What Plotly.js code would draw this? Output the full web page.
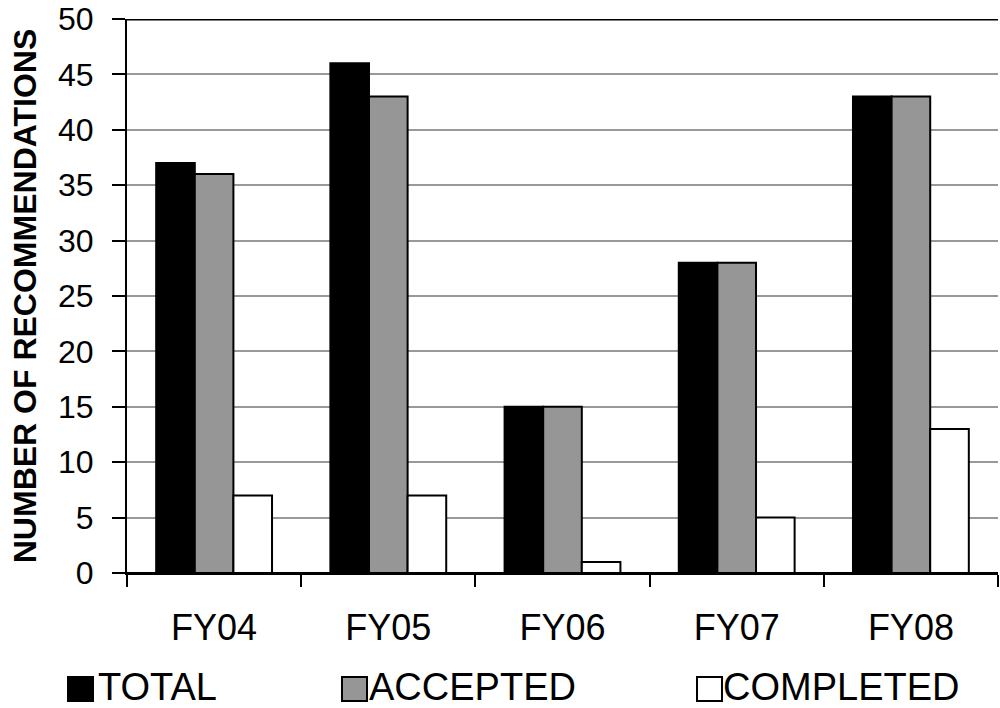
<!DOCTYPE html>
<html>
<head>
<meta charset="utf-8">
<script src="https://cdn.plot.ly/plotly-3.0.1.min.js"></script>
<style>
  html, body { margin: 0; padding: 0; background: #fff; }
  #chart { width: 1000px; height: 708px; }
</style>
</head>
<body>
<div id="chart"></div>
<script>
// Fiscal years on the category axis
const years = ["FY04", "FY05", "FY06", "FY07", "FY08"];

// Recommendation counts per fiscal year
const totalRecs     = [37, 46, 15, 28, 43];
const acceptedRecs  = [36, 43, 15, 28, 43];
const completedRecs = [7, 7, 1, 5, 13];

const seriesNames  = ["TOTAL", "ACCEPTED", "COMPLETED"];
const seriesColors = ["#000000", "#969696", "#ffffff"];
const seriesValues = [totalRecs, acceptedRecs, completedRecs];

const yTicks = [0, 5, 10, 15, 20, 25, 30, 35, 40, 45, 50];

const FONT = "'Liberation Sans', Arial, sans-serif";

const traces = seriesValues.map((vals, i) => ({
  type: "bar",
  name: seriesNames[i],
  x: years,
  y: vals,
  marker: { color: seriesColors[i], line: { color: "#000", width: 2 } },
  showlegend: false,
  hoverinfo: "x+y+name"
}));

// Legend row below the axis: a framed swatch followed by the series name
const plotL = 127, plotW = 871, plotB = 573, plotH = 554;
const swatchX = [68, 342, 697];
const labelX  = [96, 367, 721];
const shapes = [
  // heavy rule along the top of the value range
  { type: "line", xref: "paper", yref: "y", x0: 0, x1: 1, y0: 50, y1: 50,
    line: { color: "#000", width: 3 }, layer: "above" }
];
const annotations = [];
swatchX.forEach((px, i) => {
  shapes.push({
    type: "rect", xref: "paper", yref: "paper",
    x0: (px - plotL) / plotW, x1: (px + 25 - plotL) / plotW,
    y0: -(701 - plotB) / plotH, y1: -(677 - plotB) / plotH,
    fillcolor: seriesColors[i], line: { color: "#000", width: 2 }
  });
  annotations.push({
    xref: "paper", yref: "paper",
    x: (labelX[i] - plotL) / plotW, y: -(687 - plotB) / plotH,
    xanchor: "left", yanchor: "middle",
    text: seriesNames[i], showarrow: false,
    font: { family: FONT, size: 38, color: "#000" }
  });
});

const layout = {
  width: 1000, height: 708,
  margin: { l: 127, r: 2, t: 19, b: 135 },
  paper_bgcolor: "#fff", plot_bgcolor: "#fff",
  barmode: "group", bargap: 0.335, bargroupgap: 0,
  font: { family: FONT, color: "#000" },
  showlegend: false,
  xaxis: {
    type: "category",
    tickson: "boundaries",
    ticks: "outside", ticklen: 12, tickwidth: 2, tickcolor: "#000",
    showline: true, linecolor: "#000", linewidth: 2,
    showgrid: false,
    tickfont: { family: FONT, size: 36, color: "#000" },
    ticklabelstandoff: 22,
    fixedrange: true
  },
  yaxis: {
    range: [0, 50],
    tickvals: yTicks,
    ticktext: yTicks.map(String),
    ticks: "outside", ticklen: 13, tickwidth: 2, tickcolor: "#000",
    showline: true, linecolor: "#000", linewidth: 2,
    showgrid: true, gridcolor: "#999999", gridwidth: 2,
    zeroline: true, zerolinecolor: "#000", zerolinewidth: 2,
    tickfont: { family: FONT, size: 32, color: "#000" },
    ticklabelstandoff: 12,
    title: {
      text: "<b>NUMBER OF RECOMMENDATIONS</b>",
      font: { family: FONT, size: 32, color: "#000" },
      standoff: 12
    },
    fixedrange: true
  },
  shapes: shapes,
  annotations: annotations
};

Plotly.newPlot("chart", traces, layout, { displayModeBar: false, staticPlot: true });
</script>
</body>
</html>
